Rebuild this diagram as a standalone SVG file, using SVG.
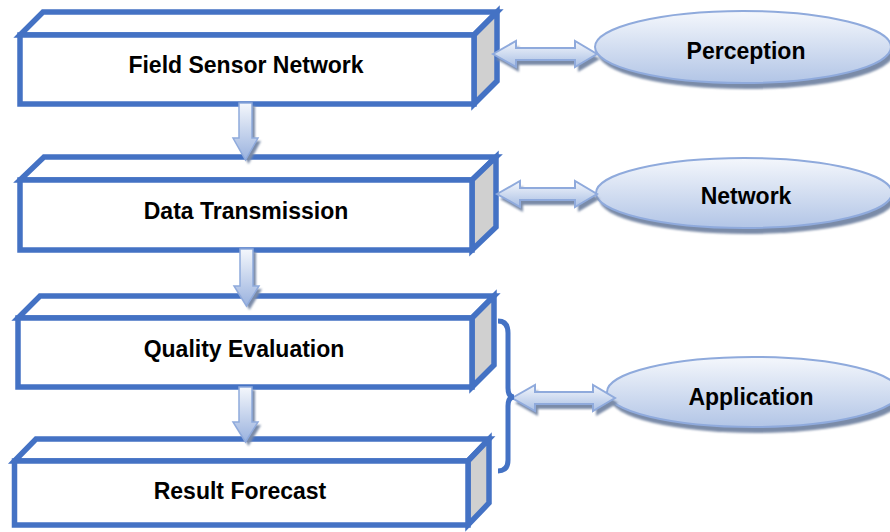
<svg xmlns="http://www.w3.org/2000/svg" width="890" height="532" viewBox="0 0 890 532">
<defs>
<linearGradient id="ellG" x1="0" y1="0" x2="0" y2="1">
<stop offset="0" stop-color="#F4F7FC"/>
<stop offset="1" stop-color="#B2C5E6"/>
</linearGradient>
<linearGradient id="harG" x1="0" y1="0" x2="0" y2="1">
<stop offset="0" stop-color="#F4F7FC"/>
<stop offset="1" stop-color="#A9BFE4"/>
</linearGradient>
<linearGradient id="varG" x1="0" y1="0" x2="0" y2="1">
<stop offset="0" stop-color="#F4F7FC"/>
<stop offset="1" stop-color="#9AB2DE"/>
</linearGradient>
<filter id="blur" x="-10%" y="-20%" width="120%" height="140%">
<feGaussianBlur stdDeviation="1"/>
</filter>
</defs>
<style>
.face{fill:#FFFFFF;stroke:#4472C4;stroke-width:5.5;stroke-linejoin:miter}
.side{fill:#D0D0D0;stroke:#4472C4;stroke-width:5.5;stroke-linejoin:miter}
.lbl{font-family:"Liberation Sans",Arial,sans-serif;font-weight:bold;font-size:23px;fill:#000;text-anchor:middle}
.ell{fill:url(#ellG);stroke:#8FAADC;stroke-width:2}
.shd{fill:#7A8BA8;filter:url(#blur)}
.har{fill:url(#harG);stroke:#8FAADC;stroke-width:2;stroke-linejoin:miter}
.var{fill:url(#varG);stroke:#8FAADC;stroke-width:1.5;stroke-linejoin:miter}
.brace{fill:none;stroke:#4472C4;stroke-width:5;stroke-linecap:butt}
</style>

<g id="box1">
<polygon class="face" points="20,35 43,12 497,12 474,35"/>
<polygon class="side" points="474,35 497,12 497,81 474,104"/>
<rect class="face" x="20" y="35" width="454" height="69"/>
<text class="lbl" x="246" y="73">Field Sensor Network</text>
</g>

<g id="box2">
<polygon class="face" points="20,180 44,157 496,157 472,180"/>
<polygon class="side" points="472,180 496,157 496,227 472,250"/>
<rect class="face" x="20" y="180" width="452" height="70"/>
<text class="lbl" x="246" y="219">Data Transmission</text>
</g>

<g id="box3">
<polygon class="face" points="18,318 40,296 494,296 472,318"/>
<polygon class="side" points="472,318 494,296 494,365 472,387"/>
<rect class="face" x="18" y="318" width="454" height="69"/>
<text class="lbl" x="244" y="357">Quality Evaluation</text>
</g>

<g id="box4">
<polygon class="face" points="14.5,461 36,439 489,439 468,461"/>
<polygon class="side" points="468,461 489,439 489,503 468,525"/>
<rect class="face" x="14.5" y="461" width="453.5" height="64"/>
<text class="lbl" x="240" y="499">Result Forecast</text>
</g>

<g id="perception">
<ellipse class="shd" cx="746" cy="53" rx="148" ry="36"/>
<ellipse class="ell" cx="743" cy="47" rx="148" ry="36"/>
<text class="lbl" x="746" y="59">Perception</text>
</g>

<g id="network">
<ellipse class="shd" cx="747" cy="199" rx="148" ry="35"/>
<ellipse class="ell" cx="744" cy="193" rx="148" ry="35"/>
<text class="lbl" x="746" y="204">Network</text>
</g>

<g id="application">
<ellipse class="shd" cx="756" cy="398" rx="146" ry="35"/>
<ellipse class="ell" cx="753" cy="392" rx="146" ry="35"/>
<text class="lbl" x="751" y="405">Application</text>
</g>

<g id="connectors">
<g id="down1">
<path class="shd" d="M242,106 H255 V141 H261 L248.5,164 L236,141 H242 Z"/>
<path class="var" d="M239,103 H252 V138 H258 L245.5,160 L233,138 H239 Z"/>
</g>
<g id="down2">
<path class="shd" d="M243,252 H256 V289 H262 L249.5,310 L237,289 H243 Z"/>
<path class="var" d="M240,249 H253 V286 H259 L246.5,306 L234,286 H240 Z"/>
</g>
<g id="down3">
<path class="shd" d="M242,390 H255 V425 H261 L248.5,446 L236,425 H242 Z"/>
<path class="var" d="M239,387 H252 V422 H258 L245.5,442 L233,422 H239 Z"/>
</g>
<g id="arrowPerception">
<path class="shd" d="M496,59 L519,46 V53 H578 V46 L600,59 L578,72 V65 H519 V72 Z"/>
<path class="har" d="M493,54 L516,41 V48 H575 V41 L597,54 L575,67 V60 H516 V67 Z"/>
</g>
<g id="arrowNetwork">
<path class="shd" d="M500,199 L523,186 V193 H578 V186 L600,199 L578,212 V205 H523 V212 Z"/>
<path class="har" d="M497,194 L520,181 V188 H575 V181 L597,194 L575,207 V200 H520 V207 Z"/>
</g>
<g id="arrowApplication">
<path class="shd" d="M515,403 L538,390 V397 H596 V390 L618,403 L596,416 V409 H538 V416 Z"/>
<path class="har" d="M512,398 L535,385 V392 H593 V385 L615,398 L593,411 V404 H535 V411 Z"/>
</g>
<path id="brace" class="brace" d="M498,321 Q508,321 508,333 V388 Q508,397 514,397 Q508,397 508,406 V460 Q508,471 498,471"/>
</g>
</svg>
